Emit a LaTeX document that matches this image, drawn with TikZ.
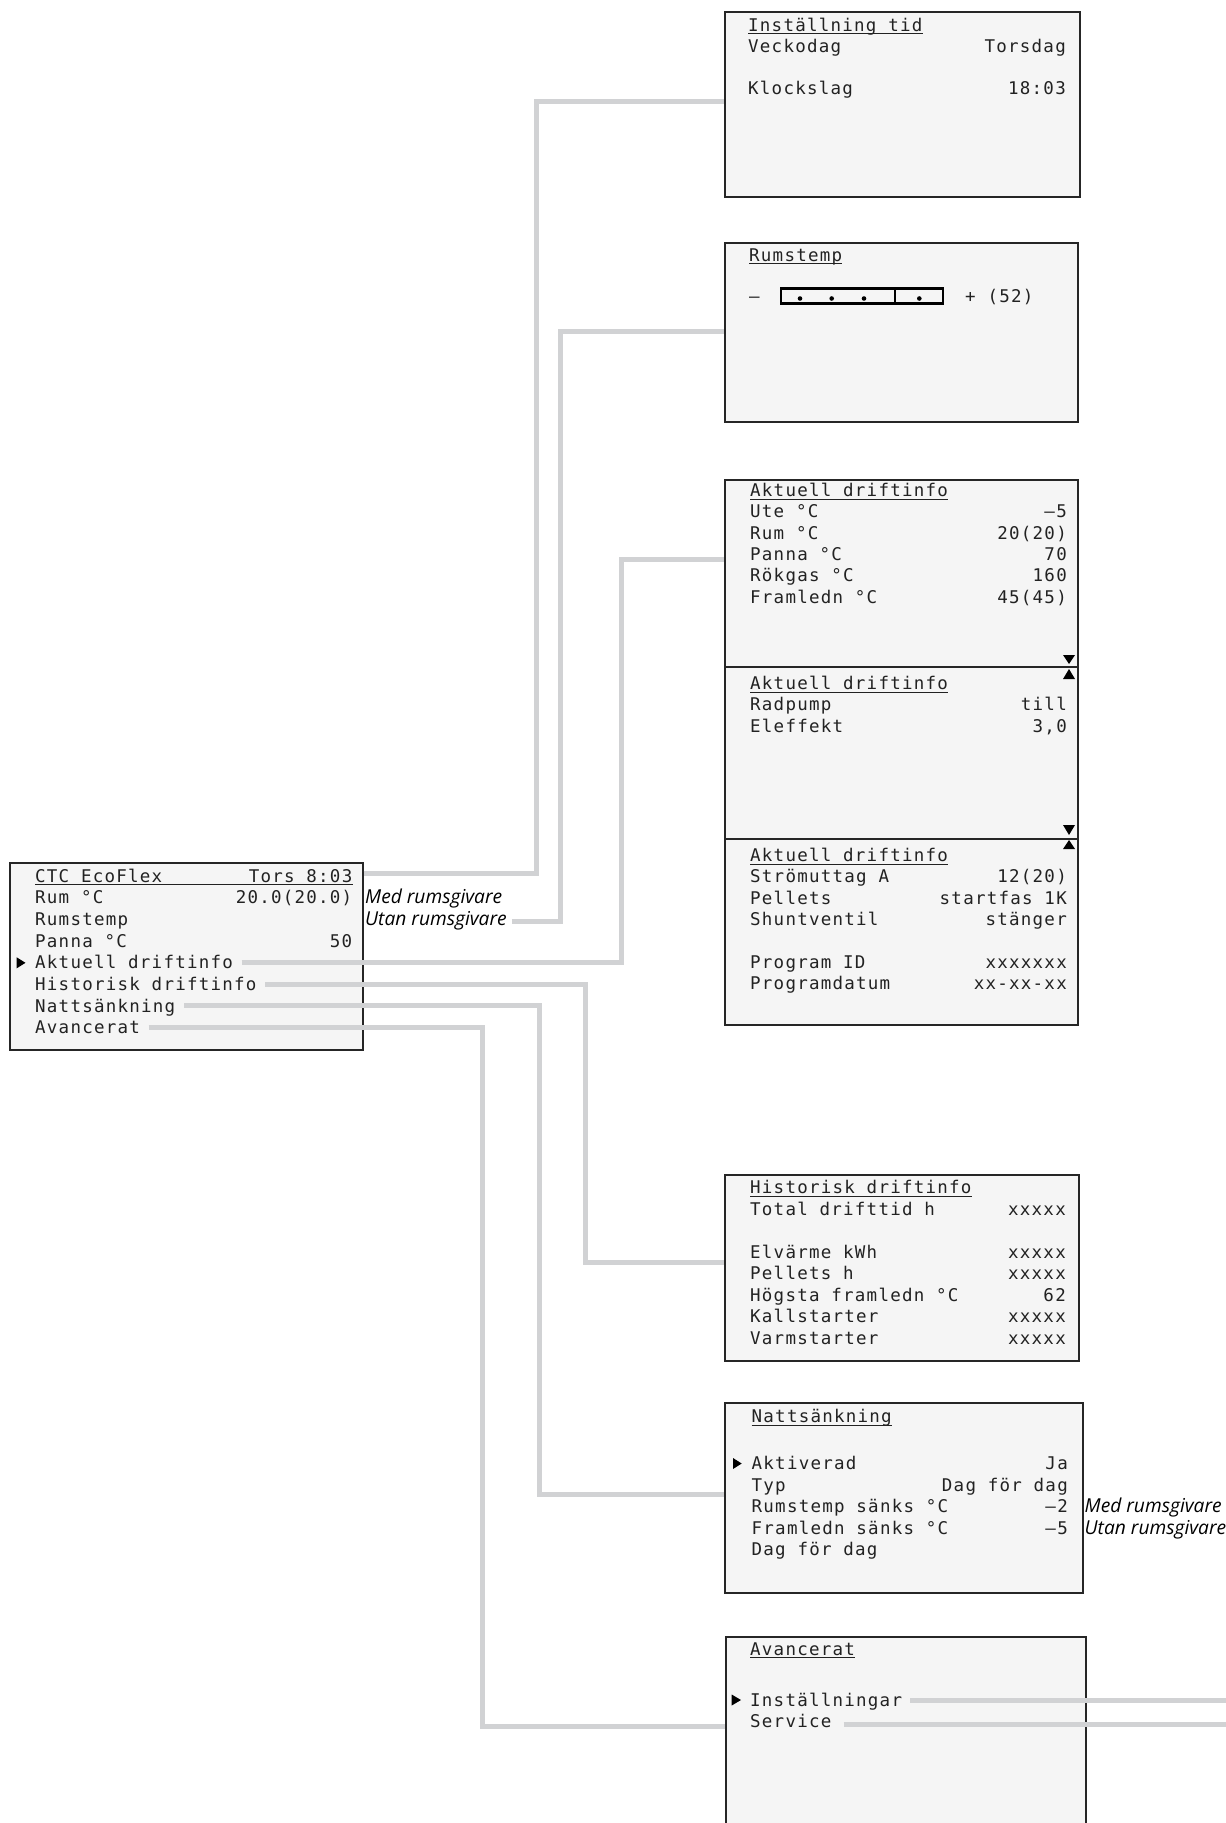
\documentclass[tikz,border=0pt]{standalone}
\usepackage{fontspec}
\newfontfamily\lcdfont[LetterSpace=7.1]{DejaVu Sans Mono}
\newfontfamily\labfont{Open Sans}
\definecolor{lcdbg}{HTML}{F5F5F5}
\definecolor{lcdtxt}{HTML}{222222}
\definecolor{connc}{HTML}{D1D2D4}
\tikzset{
  screen/.style={draw=black!85, line width=1.6pt, fill=lcdbg, inner sep=0pt, anchor=north west},
  lt/.style={font=\lcdfont\fontsize{17.5pt}{20pt}\selectfont, text=lcdtxt, inner sep=0pt, anchor=base west},
  rt/.style={lt, anchor=base east},
  lab/.style={font=\labfont\itshape\fontsize{19.2pt}{22pt}\selectfont, text=black, inner sep=0pt, anchor=base west},
  conn/.style={draw=connc, line width=5pt, line join=miter},
  ulst/.style={draw=lcdtxt, line width=1.2pt},
  tri/.style={fill=black}
}
\newcommand\lcdul[1]{\draw[ulst] ([yshift=-2.8pt]#1.base west) -- ([yshift=-2.8pt]#1.base east);}
\begin{document}
\begin{tikzpicture}[x=1pt,y=-1pt]
\useasboundingbox (0,0) rectangle (1226,1823);
% ---------- screens ----------
\node[screen, minimum width=353pt, minimum height=187pt] (main) at (9,862) {};
\node[screen, minimum width=355pt, minimum height=185pt] (b1) at (724,11) {};
\node[screen, minimum width=353pt, minimum height=179pt] (b2) at (724,242) {};
\node[screen, minimum width=353pt, minimum height=187pt] (b3a) at (724,479) {};
\node[screen, minimum width=353pt, minimum height=172pt] (b3b) at (724,666) {};
\node[screen, minimum width=353pt, minimum height=186pt] (b3c) at (724,838) {};
\node[screen, minimum width=354pt, minimum height=186pt] (b4) at (724,1174) {};
\node[screen, minimum width=358pt, minimum height=190pt] (b5) at (724,1402) {};
\node[screen, minimum width=360pt, minimum height=200pt] (b6) at (725,1636) {};

% ---------- main screen ----------
\node[lt] (m0) at (35,882) {CTC EcoFlex};
\node[rt] (m0r) at (352.5,882) {Tors 8:03};
\draw[ulst] ([yshift=-2.8pt]m0.base west) -- ([yshift=-2.8pt]m0r.base east);
\node[lt] (m1) at (35,903.7) {Rum °C};
\node[rt] (m1r) at (352.5,903.7) {20.0(20.0)};
\node[lt] (m2) at (35,925.4) {Rumstemp};
\node[lt] (m3) at (35,947.1) {Panna °C};
\node[rt] (m3r) at (352.5,947.1) {50};
\node[lt] (m4) at (35,968.8) {Aktuell driftinfo};
\node[lt] (m5) at (35,990.5) {Historisk driftinfo};
\node[lt] (m6) at (35,1012.2) {Nattsänkning};
\node[lt] (m7) at (35,1033.9) {Avancerat};
\fill[tri] (16.7,957.3) -- (25.5,962.8) -- (16.7,968.3) -- cycle;
\node[lab] (med1) at (365,903.2) {Med rumsgivare};
\node[lab] (utan1) at (365,925) {Utan rumsgivare};

% ---------- b1 ----------
\node[lt] (t1) at (748,31) {Inställning tid};
\lcdul{t1}
\node[lt] (b1l1) at (748,52.5) {Veckodag};
\node[rt] (b1r1) at (1066,52.5) {Torsdag};
\node[lt] (b1l2) at (748,94) {Klockslag};
\node[rt] (b1r2) at (1066,94) {18:03};

% ---------- b2 ----------
\node[lt] (t2) at (749,261) {Rumstemp};
\lcdul{t2}
\node[lt] (b2m) at (749,302) {–};
\draw[line width=2.2pt] (781,288.5) rectangle (943,303.5);
\draw[line width=2.2pt] (895,288.5) -- (895,303.5);
\foreach \xx in {800,831.7,864,919.3} \fill (\xx,298.5) circle (2.3pt);
\node[lt] (b2p) at (965,302) {+ (52)};

% ---------- b3a ----------
\node[lt] (t3a) at (750,496.5) {Aktuell driftinfo};
\lcdul{t3a}
\node[lt] (a1) at (750,517.8) {Ute °C};       \node[rt] (a1r) at (1067,517.8) {–5};
\node[lt] (a2) at (750,539.1) {Rum °C};       \node[rt] (a2r) at (1067,539.1) {20(20)};
\node[lt] (a3) at (750,560.4) {Panna °C};     \node[rt] (a3r) at (1067,560.4) {70};
\node[lt] (a4) at (750,581.7) {Rökgas °C};    \node[rt] (a4r) at (1067,581.7) {160};
\node[lt] (a5) at (750,603) {Framledn °C};    \node[rt] (a5r) at (1067,603) {45(45)};
\fill[tri] (1063,655) -- (1075,655) -- (1069,664) -- cycle;

% ---------- b3b ----------
\fill[tri] (1063,679) -- (1075,679) -- (1069,669) -- cycle;
\node[lt] (t3b) at (750,689.5) {Aktuell driftinfo};
\lcdul{t3b}
\node[lt] (bb1) at (750,710.8) {Radpump};     \node[rt] (bb1r) at (1067,710.8) {till};
\node[lt] (bb2) at (750,732.1) {Eleffekt};    \node[rt] (bb2r) at (1067,732.1) {3,0};
\fill[tri] (1063,825) -- (1075,825) -- (1069,835) -- cycle;

% ---------- b3c ----------
\fill[tri] (1063,849) -- (1075,849) -- (1069,840) -- cycle;
\node[lt] (t3c) at (750,861.5) {Aktuell driftinfo};
\lcdul{t3c}
\node[lt] (c1) at (750,882.8) {Strömuttag A};  \node[rt] (c1r) at (1067,882.8) {12(20)};
\node[lt] (c2) at (750,904.1) {Pellets};       \node[rt] (c2r) at (1067,904.1) {startfas 1K};
\node[lt] (c3) at (750,925.4) {Shuntventil};   \node[rt] (c3r) at (1067,925.4) {stänger};
\node[lt] (c4) at (750,968) {Program ID};      \node[rt] (c4r) at (1067,968) {xxxxxxx};
\node[lt] (c5) at (750,989.3) {Programdatum};  \node[rt] (c5r) at (1067,989.3) {xx-xx-xx};

% ---------- b4 ----------
\node[lt] (t4) at (750,1193.5) {Historisk driftinfo};
\lcdul{t4}
\node[lt] (h1) at (750,1215) {Total drifttid h};     \node[rt] (h1r) at (1066,1215) {xxxxx};
\node[lt] (h2) at (750,1258) {Elvärme kWh};          \node[rt] (h2r) at (1066,1258) {xxxxx};
\node[lt] (h3) at (750,1279.5) {Pellets h};          \node[rt] (h3r) at (1066,1279.5) {xxxxx};
\node[lt] (h4) at (750,1301) {Högsta framledn °C};   \node[rt] (h4r) at (1066,1301) {62};
\node[lt] (h5) at (750,1322.5) {Kallstarter};        \node[rt] (h5r) at (1066,1322.5) {xxxxx};
\node[lt] (h6) at (750,1344) {Varmstarter};          \node[rt] (h6r) at (1066,1344) {xxxxx};

% ---------- b5 ----------
\node[lt] (t5) at (751.5,1422.5) {Nattsänkning};
\lcdul{t5}
\fill[tri] (733,1458) -- (741.7,1463.5) -- (733,1469) -- cycle;
\node[lt] (n1) at (751.5,1469.5) {Aktiverad};          \node[rt] (n1r) at (1068,1469.5) {Ja};
\node[lt] (n2) at (751.5,1491) {Typ};                  \node[rt] (n2r) at (1068,1491) {Dag för dag};
\node[lt] (n3) at (751.5,1512.5) {Rumstemp sänks °C};  \node[rt] (n3r) at (1068,1512.5) {–2};
\node[lt] (n4) at (751.5,1534) {Framledn sänks °C};    \node[rt] (n4r) at (1068,1534) {–5};
\node[lt] (n5) at (751.5,1555.5) {Dag för dag};
\node[lab] (med2) at (1084.5,1512.5) {Med rumsgivare};
\node[lab] (utan2) at (1084.5,1534) {Utan rumsgivare};

% ---------- b6 ----------
\node[lt] (t6) at (750,1655) {Avancerat};
\lcdul{t6}
\fill[tri] (731.7,1694.5) -- (741,1700) -- (731.7,1705.5) -- cycle;
\node[lt] (v1) at (750,1706) {Inställningar};
\node[lt] (v2) at (750,1727.5) {Service};
\coordinate (e1) at (1226,1700);
\coordinate (e2) at (1226,1724);

% ---------- connectors ----------
\draw[conn] (main.east |- 0,873) -| (536.7,101) -- (b1.west |- 0,101);
\draw[conn] ([xshift=5pt,yshift=4pt]utan1.base east) -| (560,331.5) -- (b2.west |- 0,331.5);
\draw[conn] ([xshift=8.5pt,yshift=6.5pt]m4.base east) -| (621.5,559.3) -- (b3a.west |- 0,559.3);
\draw[conn] ([xshift=8.5pt,yshift=6.5pt]m5.base east) -| (585,1262) -- (b4.west |- 0,1262);
\draw[conn] ([xshift=8.5pt,yshift=6.5pt]m6.base east) -| (539.3,1494.4) -- (b5.west |- 0,1494.4);
\draw[conn] ([xshift=8.5pt,yshift=6.5pt]m7.base east) -| (482.3,1726) -- (b6.west |- 0,1726);
\draw[conn] ([xshift=8pt]v1.east |- e1) -- (e1);
\draw[conn] ([xshift=12pt]v2.east |- e2) -- (e2);
\end{tikzpicture}
\end{document}
